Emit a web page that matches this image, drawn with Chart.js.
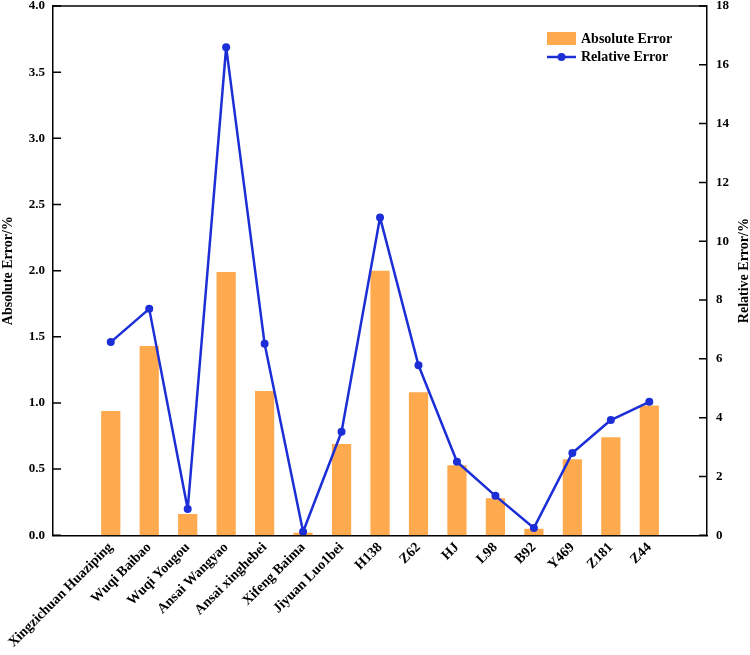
<!DOCTYPE html>
<html>
<head>
<meta charset="utf-8">
<script src="https://cdn.jsdelivr.net/npm/chart.js@4.4.1/dist/chart.umd.min.js"></script>
<style>
  html, body { margin: 0; padding: 0; background: #fff; }
  #wrap { width: 750px; height: 655px; }
</style>
</head>
<body>
<div id="wrap"><canvas id="chartErr" width="750" height="655"></canvas></div>
<script>
// field names along the x axis
const sites = [
  'Xingzichuan Huaziping', 'Wuqi Baibao', 'Wuqi Yougou', 'Ansai Wangyao',
  'Ansai xinghebei', 'Xifeng Baima', 'Jiyuan Luo1bei', 'H138', 'Z62',
  'HJ', 'L98', 'B92', 'Y469', 'Z181', 'Z44'
];
// absolute error, %
const absError = [0.94, 1.43, 0.16, 1.99, 1.09, 0.02, 0.69, 2.0, 1.08, 0.53, 0.28, 0.05, 0.575, 0.74, 0.98];
// relative error, %
const relError = [6.57, 7.70, 0.89, 16.6, 6.51, 0.12, 3.52, 10.81, 5.78, 2.50, 1.34, 0.25, 2.80, 3.92, 4.54];

const absTicks = { min: 0, max: 4, step: 0.5 };
const relTicks = { min: 0, max: 18, step: 2 };

const COLORS = {
  bar: '#ffaa4f',
  line: '#1c2fd6',
  axis: '#000'
};
const FONT = 'Liberation Serif, Times New Roman, serif';

// one blank slot each side, the original leaves that gap
const labels = ['', ...sites, ''];
const pad = arr => [null, ...arr, null];

const framePlugin = {
  id: 'frame',
  afterDraw(chart) {
    const { ctx, chartArea: a, scales } = chart;
    ctx.save();
    ctx.strokeStyle = COLORS.axis;
    ctx.lineWidth = 1.5;
    // top border
    ctx.beginPath();
    ctx.moveTo(a.left, a.top);
    ctx.lineTo(a.right, a.top);
    ctx.stroke();
    // inward ticks
    ctx.beginPath();
    scales.y.ticks.forEach(t => {
      const py = scales.y.getPixelForValue(t.value);
      ctx.moveTo(a.left, py);
      ctx.lineTo(a.left + 8, py);
    });
    scales.y1.ticks.forEach(t => {
      const py = scales.y1.getPixelForValue(t.value);
      ctx.moveTo(a.right, py);
      ctx.lineTo(a.right - 8, py);
    });
    ctx.stroke();

    // right axis title, reads bottom to top
    ctx.fillStyle = '#000';
    ctx.font = 'bold 14px ' + FONT;
    ctx.textAlign = 'center';
    ctx.textBaseline = 'middle';
    ctx.save();
    ctx.translate(744, (a.top + a.bottom) / 2);
    ctx.rotate(-Math.PI / 2);
    ctx.fillText('Relative Error/%', 0, 0);
    ctx.restore();

    // legend
    const lx = a.right - 160;
    const ly = a.top + 26;
    ctx.fillStyle = COLORS.bar;
    ctx.fillRect(lx, ly, 29, 13);
    ctx.strokeStyle = COLORS.line;
    ctx.lineWidth = 2.5;
    ctx.beginPath();
    ctx.moveTo(lx, ly + 25);
    ctx.lineTo(lx + 29, ly + 25);
    ctx.stroke();
    ctx.fillStyle = COLORS.line;
    ctx.beginPath();
    ctx.arc(lx + 14.5, ly + 25, 4, 0, Math.PI * 2);
    ctx.fill();
    ctx.fillStyle = '#000';
    ctx.font = 'bold 14px ' + FONT;
    ctx.textAlign = 'left';
    ctx.fillText('Absolute Error', lx + 34, ly + 7);
    ctx.fillText('Relative Error', lx + 34, ly + 25);
    ctx.restore();
  }
};

const tickFont = { family: FONT, size: 13, weight: 'bold' };
// let the top tick label sit above the frame like the original
const noTopPad = scale => { scale.paddingTop = 0; };

new Chart(document.getElementById('chartErr'), {
  type: 'bar',
  data: {
    labels: labels,
    datasets: [
      {
        type: 'line',
        label: 'Relative Error',
        data: pad(relError),
        borderColor: COLORS.line,
        backgroundColor: COLORS.line,
        borderWidth: 2.5,
        borderJoinStyle: 'round',
        pointRadius: 4,
        pointBackgroundColor: COLORS.line,
        pointBorderWidth: 0,
        tension: 0,
        yAxisID: 'y1',
        order: 0
      },
      {
        label: 'Absolute Error',
        data: pad(absError),
        backgroundColor: COLORS.bar,
        barPercentage: 0.5,
        categoryPercentage: 1,
        yAxisID: 'y',
        order: 1
      }
    ]
  },
  options: {
    responsive: false,
    animation: false,
    layout: { padding: { top: 6, right: 12, left: 0, bottom: 0 } },
    plugins: {
      legend: { display: false },
      tooltip: { enabled: false }
    },
    scales: {
      x: {
        offset: true,
        grid: { display: false, drawTicks: false },
        border: { display: true, color: COLORS.axis, width: 1.5 },
        ticks: {
          color: '#000',
          font: { family: FONT, size: 14, weight: 'bold' },
          minRotation: 45,
          maxRotation: 45,
          autoSkip: false,
          padding: 4
        }
      },
      y: {
        position: 'left',
        min: absTicks.min,
        max: absTicks.max,
        afterFit: noTopPad,
        grid: { display: false, drawTicks: false },
        border: { display: true, color: COLORS.axis, width: 1.5 },
        ticks: {
          stepSize: absTicks.step,
          color: '#000',
          font: tickFont,
          padding: 8,
          callback: v => v.toFixed(1)
        },
        title: {
          display: true,
          text: 'Absolute Error/%',
          color: '#000',
          font: { family: FONT, size: 14, weight: 'bold' },
          padding: { top: 0, bottom: 4 }
        }
      },
      y1: {
        position: 'right',
        min: relTicks.min,
        max: relTicks.max,
        afterFit: noTopPad,
        grid: { display: false, drawTicks: false },
        border: { display: true, color: COLORS.axis, width: 1.5 },
        ticks: {
          stepSize: relTicks.step,
          color: '#000',
          font: tickFont,
          padding: 9
        }
      }
    }
  },
  plugins: [framePlugin]
});
</script>
</body>
</html>
